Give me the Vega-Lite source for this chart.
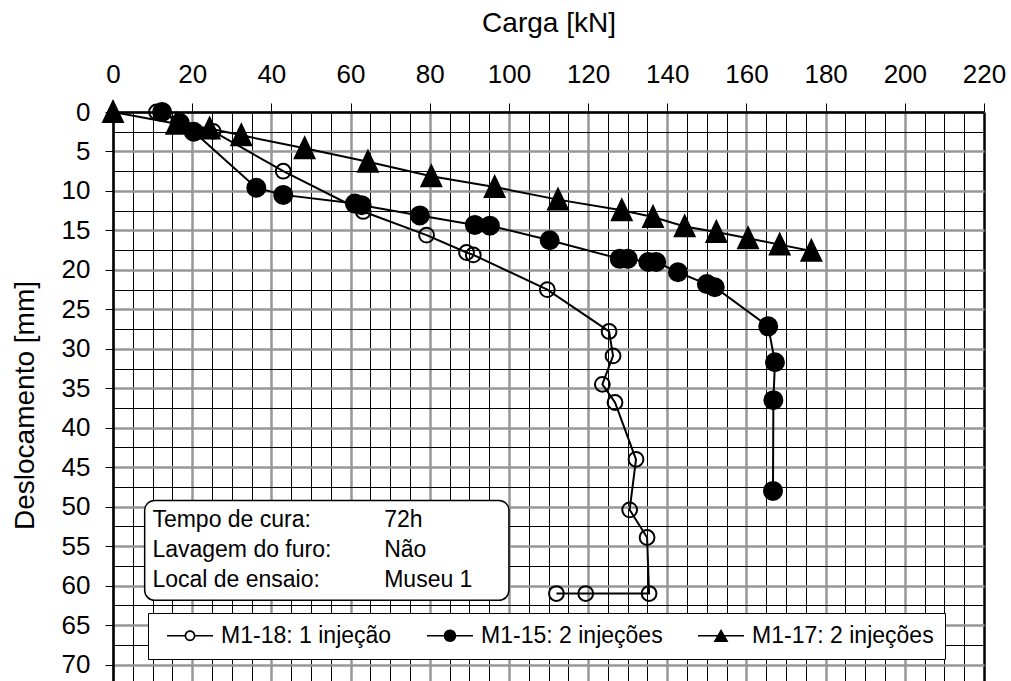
{
  "$schema": "https://vega.github.io/schema/vega-lite/v6.json",
  "autosize": "none",
  "width": 871,
  "height": 569,
  "padding": {"left": 113, "top": 112, "right": 27, "bottom": 0},
  "config": {
    "font": "Liberation Sans",
    "view": {"stroke": null},
    "axis": {
      "labelColor": "black", "titleColor": "black", "domainColor": "black", "domainWidth": 2.5,
      "tickWidth": 1, "labelFontSize": 26, "titleFontSize": 28,
      "titleFontWeight": "normal", "labelFont": "Liberation Sans", "titleFont": "Liberation Sans",
      "grid": true, "labelOverlap": false, "labelFlush": false, "gridOpacity": 1
    },
    "legend": {
      "labelFont": "Liberation Sans", "labelFontSize": 23, "labelColor": "black", "labelLimit": 0,
      "symbolOpacity": 1
    }
  },
  "datasets": {
    "pts": [
      {"s": "M1-18: 1 injeção", "i": 1, "x": 11.0, "y": 0},
      {"s": "M1-18: 1 injeção", "i": 2, "x": 25.3, "y": 2.45},
      {"s": "M1-18: 1 injeção", "i": 3, "x": 43.0, "y": 7.5},
      {"s": "M1-18: 1 injeção", "i": 4, "x": 63.2, "y": 12.6},
      {"s": "M1-18: 1 injeção", "i": 5, "x": 79.2, "y": 15.6},
      {"s": "M1-18: 1 injeção", "i": 6, "x": 89.3, "y": 17.8},
      {"s": "M1-18: 1 injeção", "i": 7, "x": 91.0, "y": 18.1},
      {"s": "M1-18: 1 injeção", "i": 8, "x": 109.7, "y": 22.5},
      {"s": "M1-18: 1 injeção", "i": 9, "x": 125.3, "y": 27.8},
      {"s": "M1-18: 1 injeção", "i": 10, "x": 126.3, "y": 30.9},
      {"s": "M1-18: 1 injeção", "i": 11, "x": 123.6, "y": 34.5},
      {"s": "M1-18: 1 injeção", "i": 12, "x": 126.8, "y": 36.8},
      {"s": "M1-18: 1 injeção", "i": 13, "x": 132.1, "y": 44.0},
      {"s": "M1-18: 1 injeção", "i": 14, "x": 130.5, "y": 50.4},
      {"s": "M1-18: 1 injeção", "i": 15, "x": 134.9, "y": 53.9},
      {"s": "M1-18: 1 injeção", "i": 16, "x": 135.4, "y": 61.0},
      {"s": "M1-18: 1 injeção", "i": 17, "x": 119.4, "y": 61.0},
      {"s": "M1-18: 1 injeção", "i": 18, "x": 112.0, "y": 61.0},
      {"s": "M1-15: 2 injeções", "i": 1, "x": 12.4, "y": 0},
      {"s": "M1-15: 2 injeções", "i": 2, "x": 16.9, "y": 1.4},
      {"s": "M1-15: 2 injeções", "i": 3, "x": 20.4, "y": 2.5},
      {"s": "M1-15: 2 injeções", "i": 4, "x": 36.2, "y": 9.6},
      {"s": "M1-15: 2 injeções", "i": 5, "x": 43.0, "y": 10.5},
      {"s": "M1-15: 2 injeções", "i": 6, "x": 61.1, "y": 11.6},
      {"s": "M1-15: 2 injeções", "i": 7, "x": 62.8, "y": 11.8},
      {"s": "M1-15: 2 injeções", "i": 8, "x": 77.5, "y": 13.1},
      {"s": "M1-15: 2 injeções", "i": 9, "x": 91.4, "y": 14.3},
      {"s": "M1-15: 2 injeções", "i": 10, "x": 95.2, "y": 14.4},
      {"s": "M1-15: 2 injeções", "i": 11, "x": 110.3, "y": 16.25},
      {"s": "M1-15: 2 injeções", "i": 12, "x": 128.0, "y": 18.6},
      {"s": "M1-15: 2 injeções", "i": 13, "x": 130.0, "y": 18.6},
      {"s": "M1-15: 2 injeções", "i": 14, "x": 135.2, "y": 19.0},
      {"s": "M1-15: 2 injeções", "i": 15, "x": 137.2, "y": 19.0},
      {"s": "M1-15: 2 injeções", "i": 16, "x": 142.7, "y": 20.3},
      {"s": "M1-15: 2 injeções", "i": 17, "x": 150.0, "y": 21.8},
      {"s": "M1-15: 2 injeções", "i": 18, "x": 152.0, "y": 22.2},
      {"s": "M1-15: 2 injeções", "i": 19, "x": 165.5, "y": 27.15},
      {"s": "M1-15: 2 injeções", "i": 20, "x": 167.2, "y": 31.7},
      {"s": "M1-15: 2 injeções", "i": 21, "x": 166.8, "y": 36.5},
      {"s": "M1-15: 2 injeções", "i": 22, "x": 166.7, "y": 48.0},
      {"s": "M1-17: 2 injeções", "i": 1, "x": 0, "y": 0},
      {"s": "M1-17: 2 injeções", "i": 2, "x": 16.0, "y": 1.5},
      {"s": "M1-17: 2 injeções", "i": 3, "x": 24.4, "y": 2.1},
      {"s": "M1-17: 2 injeções", "i": 4, "x": 32.4, "y": 2.95},
      {"s": "M1-17: 2 injeções", "i": 5, "x": 48.4, "y": 4.6},
      {"s": "M1-17: 2 injeções", "i": 6, "x": 64.4, "y": 6.3},
      {"s": "M1-17: 2 injeções", "i": 7, "x": 80.4, "y": 8.15},
      {"s": "M1-17: 2 injeções", "i": 8, "x": 96.4, "y": 9.5},
      {"s": "M1-17: 2 injeções", "i": 9, "x": 112.4, "y": 11.1},
      {"s": "M1-17: 2 injeções", "i": 10, "x": 128.5, "y": 12.45},
      {"s": "M1-17: 2 injeções", "i": 11, "x": 136.4, "y": 13.3},
      {"s": "M1-17: 2 injeções", "i": 12, "x": 144.4, "y": 14.5},
      {"s": "M1-17: 2 injeções", "i": 13, "x": 152.4, "y": 15.2},
      {"s": "M1-17: 2 injeções", "i": 14, "x": 160.4, "y": 16.0},
      {"s": "M1-17: 2 injeções", "i": 15, "x": 168.4, "y": 16.8},
      {"s": "M1-17: 2 injeções", "i": 16, "x": 176.4, "y": 17.6}
    ]
  },
  "layer": [
    {
      "data": {"name": "pts"},
      "mark": {"type": "line", "color": "black", "strokeWidth": 2},
      "encoding": {
        "x": {
          "field": "x", "type": "quantitative",
          "scale": {"domain": [0, 220], "nice": false, "zero": false},
          "axis": {
            "orient": "top", "title": "Carga [kN]", "tickCount": 200, "format": "d",
            "values": [0,5,10,15,20,25,30,35,40,45,50,55,60,65,70,75,80,85,90,95,100,105,110,115,120,125,130,135,140,145,150,155,160,165,170,175,180,185,190,195,200,205,210,215,220],
            "labelExpr": "datum.value % 20 === 0 ? datum.label : ''",
            "gridColor": {"condition": {"test": "datum.value % 20 === 0 && datum.value < 220", "value": "#979797"}, "value": "black"},
            "gridWidth": {"condition": {"test": "datum.value % 20 === 0", "value": 2.5}, "value": 1},
            "tickColor": {"condition": {"test": "datum.value % 20 === 0", "value": "black"}, "value": "transparent"},
            "tickSize": 9, "labelPadding": 20.7, "labelBaseline": "alphabetic",
            "titleBaseline": "alphabetic", "titleY": -81
          }
        },
        "y": {
          "field": "y", "type": "quantitative",
          "scale": {"domain": [0, 72.08], "reverse": true, "nice": false, "zero": false},
          "axis": {
            "title": "Deslocamento [mm]", "tickCount": 200, "format": "d",
            "values": [0,2.5,5,7.5,10,12.5,15,17.5,20,22.5,25,27.5,30,32.5,35,37.5,40,42.5,45,47.5,50,52.5,55,57.5,60,62.5,65,67.5,70],
            "labelExpr": "datum.value % 5 === 0 ? datum.label : ''",
            "gridColor": {"condition": {"test": "datum.value % 5 === 0", "value": "#979797"}, "value": "black"},
            "gridWidth": {"condition": {"test": "datum.value % 5 === 0", "value": 2.5}, "value": 1},
            "tickColor": {"condition": {"test": "datum.value % 5 === 0", "value": "black"}, "value": "transparent"},
            "tickSize": 8, "labelPadding": 15,
            "titleBaseline": "alphabetic", "titleX": -80, "titleY": 293
          }
        },
        "detail": {"field": "s", "type": "nominal"},
        "order": {"field": "i", "type": "quantitative"}
      }
    },
    {
      "data": {"name": "pts"},
      "transform": [{"filter": "datum.s == 'M1-18: 1 injeção'"}],
      "mark": {"type": "point", "shape": "circle", "size": 219, "fill": "transparent", "stroke": "black", "strokeWidth": 2, "opacity": 1},
      "encoding": {
        "x": {"field": "x", "type": "quantitative"},
        "y": {"field": "y", "type": "quantitative"}
      }
    },
    {
      "data": {"name": "pts"},
      "transform": [{"filter": "datum.s == 'M1-15: 2 injeções'"}],
      "mark": {"type": "point", "shape": "circle", "size": 324, "fill": "black", "stroke": "black", "strokeWidth": 2, "opacity": 1},
      "encoding": {
        "x": {"field": "x", "type": "quantitative"},
        "y": {"field": "y", "type": "quantitative"}
      }
    },
    {
      "data": {"name": "pts"},
      "transform": [{"filter": "datum.s == 'M1-17: 2 injeções'"}],
      "mark": {"type": "point", "shape": "M0,-1.2L1.1,1.1L-1.1,1.1Z", "size": 324, "fill": "black", "stroke": "black", "strokeWidth": 2, "opacity": 1},
      "encoding": {
        "x": {"field": "x", "type": "quantitative"},
        "y": {"field": "y", "type": "quantitative"}
      }
    },
    {
      "data": {"name": "pts"},
      "transform": [{"filter": "false"}],
      "mark": {"type": "point", "size": 144, "opacity": 1, "filled": true, "color": "black"},
      "encoding": {
        "x": {"field": "x", "type": "quantitative"},
        "y": {"field": "y", "type": "quantitative"},
        "shape": {
          "field": "s", "type": "nominal",
          "scale": {
            "domain": ["M1-18: 1 injeção", "M1-15: 2 injeções", "M1-17: 2 injeções"],
            "range": [
              "M-4.6,-0.167H-0.9V0.167H-4.6Z M0.9,-0.167H4.6V0.167H0.9Z M1.083,0C1.083,0.598 0.598,1.083 0,1.083C-0.598,1.083 -1.083,0.598 -1.083,0C-1.083,-0.598 -0.598,-1.083 0,-1.083C0.598,-1.083 1.083,-0.598 1.083,0Z M0.75,0C0.75,-0.414 0.414,-0.75 0,-0.75C-0.414,-0.75 -0.75,-0.414 -0.75,0C-0.75,0.414 -0.414,0.75 0,0.75C0.414,0.75 0.75,0.414 0.75,0Z",
              "M-4.6,-0.167H4.6V0.167H-4.6Z M1.25,0C1.25,0.69 0.69,1.25 0,1.25C-0.69,1.25 -1.25,0.69 -1.25,0C-1.25,-0.69 -0.69,-1.25 0,-1.25C0.69,-1.25 1.25,-0.69 1.25,0Z",
              "M-4.6,-0.167H4.6V0.167H-4.6Z M0,-1.35L1.5,1.25L-1.5,1.25Z"
            ]
          },
          "legend": {
            "orient": "none", "legendX": 35, "legendY": 501, "direction": "horizontal", "title": null,
            "fillColor": "white", "strokeColor": "black", "padding": 11,
            "columnPadding": 27, "symbolOffset": 19.5, "labelOffset": 19.6,
            "symbolFillColor": "black", "symbolStrokeColor": "transparent"
          }
        }
      }
    },
    {
      "data": {"values": [{"box": "info"}]},
      "mark": {"type": "rect", "fill": "white", "stroke": "black", "strokeWidth": 1.5, "cornerRadius": 10},
      "encoding": {
        "x": {"datum": 8.0},
        "x2": {"datum": 100.0},
        "y": {"datum": 49.2},
        "y2": {"datum": 61.86}
      }
    },
    {
      "data": {"values": [{"box": "info"}]},
      "mark": {"type": "text", "align": "left", "baseline": "alphabetic", "fontSize": 23, "lineHeight": 30, "color": "black", "font": "Liberation Sans"},
      "encoding": {
        "x": {"datum": 9.95},
        "y": {"datum": 52.55},
        "text": {"value": ["Tempo de cura:", "Lavagem do furo:", "Local de ensaio:"]}
      }
    },
    {
      "data": {"values": [{"box": "info"}]},
      "mark": {"type": "text", "align": "left", "baseline": "alphabetic", "fontSize": 23, "lineHeight": 30, "color": "black", "font": "Liberation Sans"},
      "encoding": {
        "x": {"datum": 68.5},
        "y": {"datum": 52.55},
        "text": {"value": ["72h", "Não", "Museu 1"]}
      }
    }
  ]
}
